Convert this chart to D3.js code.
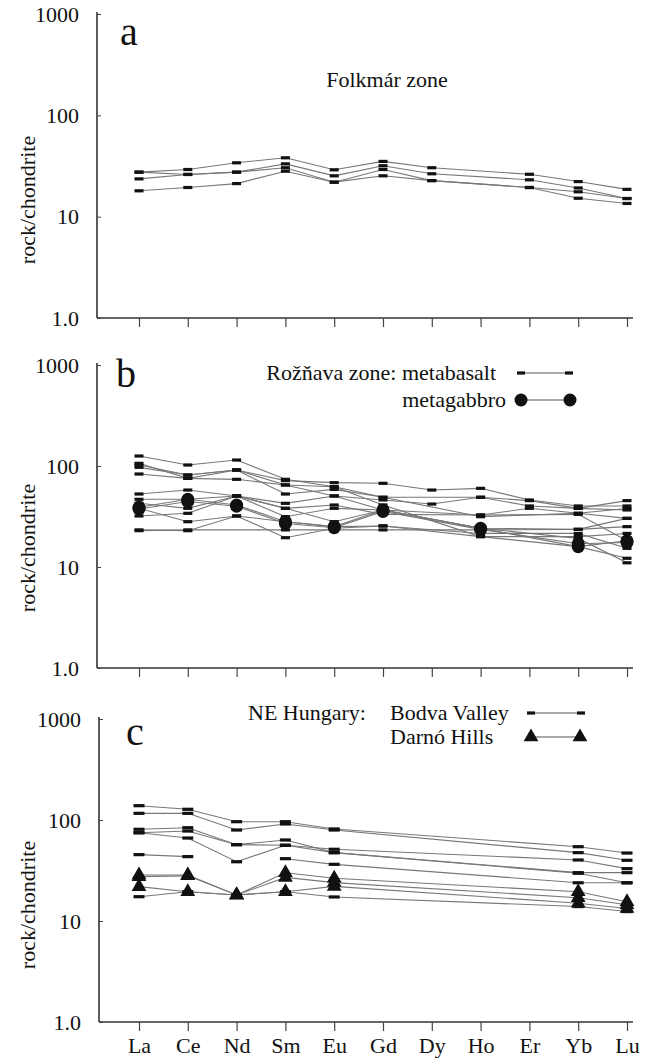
<!DOCTYPE html>
<html><head><meta charset="utf-8">
<script src="https://cdn.jsdelivr.net/npm/d3@7"></script>
<style>body{margin:0;background:#fff}</style>
</head><body>
<svg id="chart" width="650" height="1059"></svg>
<script>
// ---- data ----
const elements = ["La","Ce","Nd","Sm","Eu","Gd","Dy","Ho","Er","Yb","Lu"];
const yTickValues = [1, 10, 100, 1000];
const yTickLabels = ["1.0", "10", "100", "1000"];

// panel a: Folkmár zone (Ho not analysed)
const folkmarSeries = [
  [27.5, 29.2, 34.0, 38.1, 29.0, 35.1, 30.4, null, 26.2, 22.2, 18.6],
  [27.5, 26.1, 27.5, 33.2, 25.3, 31.8, 26.5, null, 23.1, 19.2, 15.1],
  [23.6, 26.1, 27.5, 30.4, 21.9, 29.2, 22.7, null, 19.4, 17.6, 15.1],
  [18.0, 19.4, 21.2, 28.1, 21.9, 25.3, 22.7, null, 19.4, 15.2, 13.5]
];

// panel b: Rožňava zone
const roznavaMetabasalt = [
  [125.6, 102.3, 114.6, 73.8, 62.4, 49.0, null, 31.5, null, 34.0, 30.3],
  [102.3, 81.4, 91.3, 71.6, 68.4, 67.4, 57.8, 60.1, 46.1, 40.2, 40.2],
  [106.3, 75.5, 91.3, 52.8, 58.7, 49.0, null, 49.0, 45.4, 38.1, 36.7],
  [83.3, 75.5, 73.8, 64.9, 50.5, 36.7, null, 24.2, null, 19.2, 11.0],
  [97.0, 81.4, 91.3, 64.9, 62.4, 41.1, null, 20.0, null, 15.9, 12.2],
  [52.8, 57.8, 50.5, 42.7, 50.5, 46.1, 42.0, 49.0, 40.2, 38.1, 45.4],
  [46.8, 46.8, 50.5, 38.1, 41.1, 33.2, null, 32.7, null, 33.2, 18.2],
  [32.0, 34.0, 50.5, 31.5, 38.1, 36.7, null, 24.2, null, 23.6, 25.1],
  [38.1, 28.1, 32.0, 19.5, 24.2, 25.5, null, 20.0, null, 20.0, 21.5],
  [23.3, 22.9, 32.0, 28.1, 25.1, 25.5, null, 21.5, null, 21.5, 15.3],
  [22.9, 23.3, null, 23.3, 23.3, 23.3, null, 23.3, null, 23.6, 30.3],
  [42.7, 38.1, 50.5, 38.1, 28.1, 36.7, null, 32.7, 38.1, 34.0, 38.0]
];
const roznavaMetagabbro = [
  [39.0, 46.8, 41.1, 28.1, 25.1, 36.7, null, 24.2, null, 15.9, 18.2],
  [37.5, 44.5, 40.0, 27.0, 24.5, 35.5, null, 23.6, null, 17.0, 17.5]
];

// panel c: NE Hungary (Gd, Dy, Ho, Er not analysed)
const bodvaValley = [
  [138.6, 127.7, 96.2, 96.2, 81.5, null, null, null, null, 54.4, 47.1],
  [116.4, 116.4, 79.6, 91.3, 79.6, null, null, null, null, 47.5, 39.9],
  [80.9, 83.9, 57.0, 56.2, 51.3, null, null, null, null, 40.2, 33.0],
  [74.8, 77.8, 57.0, 63.4, 47.5, null, null, null, null, 30.1, 30.1],
  [74.8, 66.3, 38.6, 56.2, 47.5, null, null, null, null, 29.7, 23.9],
  [45.4, 43.4, null, null, null, null, null, null, null, null, null],
  [null, null, null, 41.4, 36.4, null, null, null, null, 23.9, 23.9],
  [17.4, 19.5, 18.1, 19.5, 17.3, null, null, null, null, 13.9, 12.4]
];
const darnoHills = [
  [28.5, 28.5, 18.1, 30.0, 26.5, null, null, null, null, 19.5, 15.5],
  [27.5, 28.0, 18.1, 27.0, 24.0, null, null, null, null, 17.0, 14.5],
  [21.9, 19.5, 18.1, 19.5, 22.0, null, null, null, null, 15.0, 13.3]
];

// ---- drawing ----
const FONT = '"Liberation Serif"';
const svg = d3.select("#chart");
const x = d3.scalePoint().domain(elements).range([139, 627]);

const lineGen = (y) => d3.line().x(d => x(d.el)).y(d => y(d.v));
const toPts = (arr) => arr.map((v, i) => ({el: elements[i], v})).filter(d => d.v != null);

function txt(g, x0, y0, s, size, anchor) {
  return g.append("text").attr("x", x0).attr("y", y0).attr("font-family", FONT)
    .attr("font-size", size).attr("fill", "#111").attr("text-anchor", anchor || "start").text(s);
}
function dashMarker(g, cx, cy, w) {
  g.append("rect").attr("x", cx - w/2).attr("y", cy - 1.6).attr("width", w).attr("height", 3.2).attr("fill", "#111");
}
function circleMarker(g, cx, cy) {
  g.append("circle").attr("cx", cx).attr("cy", cy).attr("r", 6.5).attr("fill", "#111");
}
function triMarker(g, cx, cy) {
  g.append("path").attr("d", d3.symbol(d3.symbolTriangle, 95)()).attr("transform", `translate(${cx},${cy})`).attr("fill", "#111");
}

function drawPanel(cfg) {
  const y = d3.scaleLog().domain([1, 1000]).range([cfg.bottom, cfg.top]);
  const g = svg.append("g");
  g.append("line").attr("x1", cfg.axisX).attr("x2", cfg.axisX).attr("y1", cfg.top - 2).attr("y2", cfg.bottom)
    .attr("stroke", "#333").attr("stroke-width", 1.6);
  g.append("line").attr("x1", cfg.axisX).attr("x2", 633).attr("y1", cfg.bottom).attr("y2", cfg.bottom)
    .attr("stroke", "#333").attr("stroke-width", 1.6);
  const ya = g.append("g").attr("transform", `translate(${cfg.axisX},0)`)
    .call(d3.axisLeft(y).tickValues(yTickValues).tickSizeInner(-4).tickSizeOuter(0).tickPadding(18)
      .tickFormat((d, i) => yTickLabels[i]));
  ya.select(".domain").remove();
  ya.attr("font-family", FONT).attr("font-size", 22);
  ya.selectAll("line").attr("stroke", "#444");
  ya.selectAll("text").attr("font-family", FONT).attr("font-size", 22).attr("fill", "#111");
  const xa = g.append("g").attr("transform", `translate(0,${cfg.bottom})`)
    .call(d3.axisBottom(x).tickSizeInner(9).tickSizeOuter(0).tickPadding(6)
      .tickFormat(cfg.xLabels ? (d => d) : () => ""));
  xa.select(".domain").remove();
  xa.attr("font-family", FONT).attr("font-size", 22);
  xa.selectAll("line").attr("stroke", "#444").attr("stroke-width", 1.2);
  xa.selectAll("text").attr("font-family", FONT).attr("font-size", 22).attr("fill", "#111");
  g.append("text").attr("transform", `translate(27,${cfg.labelY}) rotate(-90)`)
    .attr("text-anchor", "middle").attr("dominant-baseline", "central").attr("font-family", FONT)
    .attr("font-size", 22).attr("fill", "#111").text("rock/chondrite");
  txt(g, cfg.letterX, cfg.letterY, cfg.letter, 40);
  cfg.groups.forEach(grp => {
    grp.data.forEach(s => {
      g.append("path").attr("d", lineGen(y)(toPts(s))).attr("fill", "none").attr("stroke", "#777").attr("stroke-width", 1.1);
    });
  });
  cfg.groups.forEach(grp => {
    grp.data.forEach(s => {
      toPts(s).forEach(d => grp.marker(g, x(d.el), y(d.v)));
    });
  });
  return g;
}

// Panel a
const ga = drawPanel({top: 14, bottom: 318, axisX: 97, labelY: 200, letter: "a", letterX: 120, letterY: 45,
  xLabels: false, groups: [{data: folkmarSeries, marker: (g, cx, cy) => dashMarker(g, cx, cy, 9)}]});
txt(ga, 387, 87, "Folkmár zone", 22, "middle");

// Panel b
const gb = drawPanel({top: 365, bottom: 668, axisX: 97, labelY: 548, letter: "b", letterX: 116, letterY: 387,
  xLabels: false, groups: [
    {data: roznavaMetabasalt, marker: (g, cx, cy) => dashMarker(g, cx, cy, 9)},
    {data: roznavaMetagabbro, marker: circleMarker}
  ]});
txt(gb, 496, 380, "Rožňava zone: metabasalt", 22, "end");
gb.append("line").attr("x1", 519).attr("x2", 571).attr("y1", 373).attr("y2", 373).attr("stroke", "#555").attr("stroke-width", 1.1);
dashMarker(gb, 521, 373, 8); dashMarker(gb, 569, 373, 8);
txt(gb, 506, 407, "metagabbro", 22, "end");
gb.append("line").attr("x1", 521).attr("x2", 570).attr("y1", 400).attr("y2", 400).attr("stroke", "#555").attr("stroke-width", 1.1);
circleMarker(gb, 521, 400); circleMarker(gb, 570, 400);

// Panel c
const gc = drawPanel({top: 719, bottom: 1022, axisX: 99, labelY: 905, letter: "c", letterX: 126, letterY: 745,
  xLabels: true, groups: [
    {data: bodvaValley, marker: (g, cx, cy) => dashMarker(g, cx, cy, 11)},
    {data: darnoHills, marker: triMarker}
  ]});
txt(gc, 248, 720, "NE Hungary:", 22);
txt(gc, 390, 720, "Bodva Valley", 22);
gc.append("line").attr("x1", 529).attr("x2", 583).attr("y1", 713).attr("y2", 713).attr("stroke", "#555").attr("stroke-width", 1.1);
dashMarker(gc, 531, 713, 8); dashMarker(gc, 581, 713, 8);
txt(gc, 390, 744, "Darnó Hills", 22);
gc.append("line").attr("x1", 531).attr("x2", 580).attr("y1", 737).attr("y2", 737).attr("stroke", "#555").attr("stroke-width", 1.1);
triMarker(gc, 531, 737); triMarker(gc, 580, 737);
</script>
</body></html>
